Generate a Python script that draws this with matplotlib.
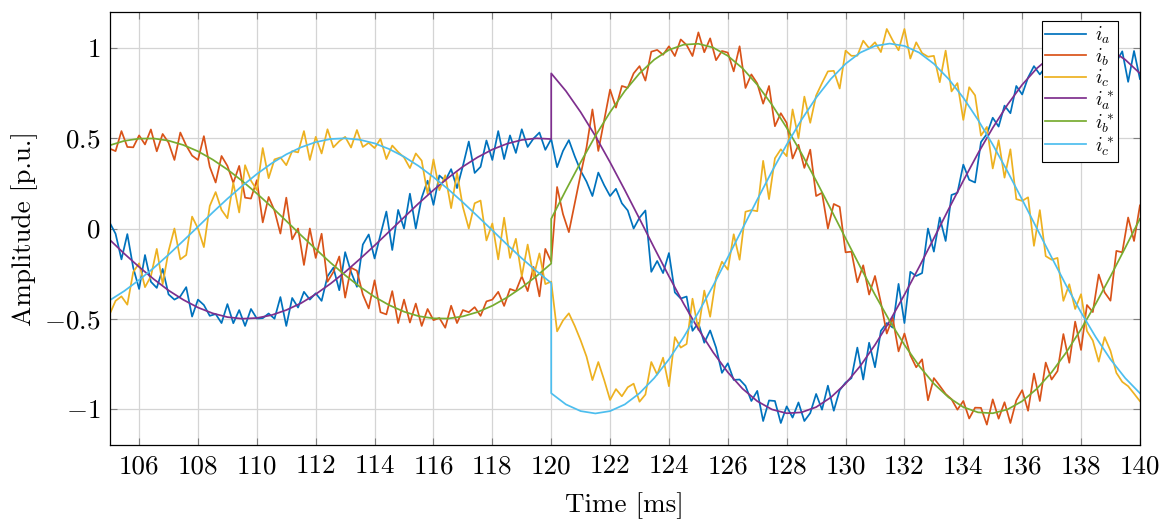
import numpy as np
import matplotlib
matplotlib.use("Agg")
import matplotlib.pyplot as plt

plt.rcParams['font.family'] = 'serif'
plt.rcParams['font.serif'] = ['cmr10']
plt.rcParams['mathtext.fontset'] = 'cm'
plt.rcParams['axes.formatter.use_mathtext'] = True

# measured phase currents, sampled every 0.2 ms from 105 to 140 ms
t_meas = np.linspace(105, 140, 176)

i_a = [
    0.033, -0.029, -0.171, -0.031, -0.217, -0.335, -0.147, -0.295, -0.329, -0.224,
    -0.365, -0.394, -0.376, -0.325, -0.488, -0.394, -0.424, -0.484, -0.474, -0.524,
    -0.419, -0.525, -0.452, -0.540, -0.446, -0.499, -0.497, -0.471, -0.500, -0.380,
    -0.540, -0.385, -0.438, -0.351, -0.394, -0.359, -0.401, -0.265, -0.217, -0.342,
    -0.131, -0.241, -0.323, -0.089, -0.033, -0.166, -0.034, 0.094, -0.119, 0.103,
    0.000, 0.193, 0.000, 0.171, 0.265, 0.131, 0.294, 0.265, 0.329, 0.224,
    0.347, 0.482, 0.308, 0.342, 0.488, 0.380, 0.540, 0.385, 0.516, 0.419,
    0.550, 0.452, 0.499, 0.532, 0.436, 0.496,
    0.34, 0.43, 0.49, 0.40, 0.32, 0.26, 0.18, 0.31, 0.24, 0.18,
    0.22, 0.14, 0.10, 0.00, 0.06, 0.10, -0.24, -0.18,
    -0.247, -0.136, -0.354, -0.388, -0.377, -0.567, -0.524, -0.633, -0.565, -0.660,
    -0.800, -0.747, -0.839, -0.837, -0.872, -0.956, -0.900, -1.067, -0.953, -0.956,
    -1.078, -0.986, -1.048, -0.964, -1.067, -1.023, -0.917, -1.004, -0.871, -1.010,
    -0.896, -0.854, -0.829, -0.660, -0.837, -0.633, -0.769, -0.567, -0.524, -0.549,
    -0.307, -0.524, -0.240, -0.263, -0.247, 0.000, -0.128, 0.061, -0.069, 0.186,
    0.198, 0.354, 0.270, 0.255, 0.479, 0.524, 0.614, 0.565, 0.681, 0.639,
    0.790, 0.743, 0.837, 0.900, 0.854, 0.896, 1.010, 0.953, 0.986, 1.053,
    0.962, 1.037, 0.992, 1.084, 0.993, 0.956, 1.078, 0.924, 0.982, 0.813,
    0.984, 0.829,
]

i_b = [
    0.443, 0.429, 0.540, 0.452, 0.450, 0.516, 0.466, 0.549, 0.428, 0.524,
    0.476, 0.380, 0.532, 0.460, 0.404, 0.380, 0.512, 0.342, 0.255, 0.402,
    0.347, 0.253, 0.347, 0.171, 0.166, 0.268, 0.034, 0.175, 0.099, -0.028,
    0.171, -0.060, 0.000, -0.202, 0.000, -0.163, -0.029, -0.295, -0.241, -0.155,
    -0.383, -0.217, -0.234, -0.366, -0.443, -0.287, -0.464, -0.476, -0.347, -0.524,
    -0.394, -0.521, -0.416, -0.540, -0.446, -0.508, -0.496, -0.550, -0.428, -0.524,
    -0.452, -0.464, -0.436, -0.484, -0.404, -0.394, -0.351, -0.429, -0.335, -0.347,
    -0.265, -0.347, -0.213, -0.376, -0.113, -0.184,
    0.23, 0.08, -0.02, 0.14, 0.30, 0.45, 0.66, 0.43, 0.60, 0.77,
    0.67, 0.79, 0.78, 0.86, 0.90, 0.82, 0.98, 0.99,
    0.963, 1.010, 0.956, 1.048, 1.017, 0.956, 1.087, 0.977, 1.054, 0.933,
    0.984, 0.975, 0.871, 1.010, 0.779, 0.854, 0.804, 0.692, 0.790, 0.567,
    0.639, 0.585, 0.388, 0.464, 0.336, 0.437, 0.180, 0.198, 0.000, 0.136,
    0.120, -0.132, -0.128, -0.298, -0.204, -0.366, -0.263, -0.411, -0.582, -0.494,
    -0.681, -0.582, -0.702, -0.769, -0.725, -0.952, -0.829, -0.872, -0.917, -0.946,
    -1.004, -0.956, -1.053, -0.993, -0.994, -1.087, -0.947, -1.054, -0.963, -1.078,
    -0.953, -0.896, -1.010, -0.804, -0.956, -0.743, -0.837, -0.790, -0.585, -0.744,
    -0.516, -0.673, -0.424, -0.463, -0.255, -0.354, -0.400, -0.124, -0.132, 0.061,
    -0.069, 0.128,
]

i_c = [
    -0.475, -0.401, -0.376, -0.422, -0.241, -0.193, -0.325, -0.265, -0.113, -0.309,
    -0.125, 0.000, -0.171, -0.147, 0.066, 0.000, -0.103, 0.125, 0.202, 0.103,
    0.057, 0.253, 0.089, 0.351, 0.265, 0.213, 0.446, 0.279, 0.383, 0.394,
    0.351, 0.429, 0.422, 0.540, 0.380, 0.508, 0.416, 0.550, 0.450, 0.484,
    0.508, 0.449, 0.546, 0.452, 0.475, 0.446, 0.497, 0.385, 0.460, 0.424,
    0.394, 0.335, 0.416, 0.376, 0.192, 0.383, 0.213, 0.295, 0.113, 0.309,
    0.119, 0.000, 0.140, 0.155, -0.066, 0.028, -0.171, 0.060, -0.163, -0.057,
    -0.265, -0.089, -0.268, -0.138, -0.308, -0.294,
    -0.57, -0.51, -0.47, -0.54, -0.62, -0.71, -0.84, -0.74, -0.84, -0.95,
    -0.89, -0.93, -0.88, -0.86, -0.96, -0.92, -0.74, -0.81,
    -0.716, -0.874, -0.602, -0.660, -0.640, -0.389, -0.563, -0.344, -0.489, -0.273,
    -0.184, -0.228, -0.032, -0.173, 0.093, 0.102, 0.096, 0.375, 0.163, 0.389,
    0.439, 0.401, 0.660, 0.500, 0.731, 0.586, 0.737, 0.806, 0.871, 0.874,
    0.776, 0.986, 0.957, 0.958, 1.041, 0.999, 1.032, 0.978, 1.106, 1.043,
    0.988, 1.106, 0.942, 1.032, 0.972, 0.952, 0.957, 0.811, 0.986, 0.760,
    0.806, 0.602, 0.783, 0.738, 0.515, 0.563, 0.333, 0.489, 0.282, 0.439,
    0.163, 0.153, 0.173, -0.096, 0.102, -0.153, -0.173, -0.163, -0.401, -0.309,
    -0.446, -0.364, -0.568, -0.621, -0.738, -0.602, -0.678, -0.800, -0.850, -0.874,
    -0.915, -0.957,
]

# reference currents every 0.5 ms, step change of the setpoint at 120 ms
t_ref = np.concatenate([np.linspace(105, 120, 31), np.linspace(120, 140, 41)])

i_a_ref = [
    -0.062, -0.140, -0.213, -0.281, -0.343, -0.395, -0.438, -0.470, -0.491, -0.500,
    -0.496, -0.480, -0.452, -0.414, -0.364, -0.306, -0.241, -0.169, -0.094, -0.016,
    0.062, 0.140, 0.213, 0.281, 0.343, 0.395, 0.438, 0.470, 0.491, 0.500, 0.496,
    0.860, 0.762, 0.645, 0.513, 0.367, 0.213, 0.054, -0.107, -0.265, -0.417,
    -0.558, -0.686, -0.797, -0.888, -0.957, -1.003, -1.024, -1.019, -0.990, -0.936,
    -0.860, -0.762, -0.645, -0.513, -0.367, -0.213, -0.054, 0.107, 0.265, 0.417,
    0.558, 0.686, 0.797, 0.888, 0.957, 1.003, 1.024, 1.019, 0.990, 0.936, 0.860,
]

i_b_ref = [
    0.461, 0.486, 0.498, 0.499, 0.487, 0.463, 0.428, 0.382, 0.327, 0.264,
    0.194, 0.120, 0.042, -0.037, -0.114, -0.189, -0.259, -0.323, -0.379, -0.425,
    -0.461, -0.486, -0.498, -0.499, -0.487, -0.463, -0.428, -0.382, -0.327, -0.264, -0.194,
    0.054, 0.213, 0.367, 0.513, 0.645, 0.762, 0.860, 0.936, 0.990, 1.019,
    1.024, 1.003, 0.957, 0.888, 0.797, 0.686, 0.558, 0.417, 0.265, 0.107,
    -0.054, -0.213, -0.367, -0.513, -0.645, -0.762, -0.860, -0.936, -0.990, -1.019,
    -1.024, -1.003, -0.957, -0.888, -0.797, -0.686, -0.558, -0.417, -0.265, -0.107, 0.054,
]

i_c_ref = [
    -0.398, -0.346, -0.285, -0.218, -0.145, -0.068, 0.010, 0.089, 0.165, 0.236,
    0.302, 0.361, 0.411, 0.450, 0.479, 0.496, 0.500, 0.492, 0.472, 0.440,
    0.398, 0.346, 0.285, 0.218, 0.145, 0.068, -0.010, -0.089, -0.165, -0.236, -0.302,
    -0.913, -0.975, -1.012, -1.025, -1.012, -0.975, -0.913, -0.829, -0.725, -0.602,
    -0.465, -0.317, -0.160, 0.000, 0.160, 0.317, 0.465, 0.602, 0.725, 0.829,
    0.913, 0.975, 1.012, 1.025, 1.012, 0.975, 0.913, 0.829, 0.725, 0.602,
    0.465, 0.317, 0.160, 0.000, -0.160, -0.317, -0.465, -0.602, -0.725, -0.829, -0.913,
]

x_ticks = list(range(106, 141, 2))
y_ticks = [-1, -0.5, 0, 0.5, 1]
y_tick_labels = [r'$-1$', r'$-0.5$', r'$0$', r'$0.5$', r'$1$']

colors = ['#0072BD', '#D95319', '#EDB120', '#7E2F8E', '#77AC30', '#4DBEEE']

fig = plt.figure(figsize=(11.73, 5.2), dpi=100)
ax = fig.add_axes([0.0935, 0.1442, 0.8783, 0.8327])

lw = 1.25
ax.plot(t_meas, i_a, color=colors[0], lw=lw, label=r'$i_a$')
ax.plot(t_meas, i_b, color=colors[1], lw=lw, label=r'$i_b$')
ax.plot(t_meas, i_c, color=colors[2], lw=lw, label=r'$i_c$')
ax.plot(t_ref, i_a_ref, color=colors[3], lw=lw, label=r'$i_a^*$')
ax.plot(t_ref, i_b_ref, color=colors[4], lw=lw, label=r'$i_b^*$')
ax.plot(t_ref, i_c_ref, color=colors[5], lw=lw, label=r'$i_c^*$')

ax.set_xlim(105, 140)
ax.set_ylim(-1.2, 1.2)
ax.set_xticks(x_ticks)
ax.set_xticklabels([str(v) for v in x_ticks])
ax.set_yticks(y_ticks)
ax.set_yticklabels(y_tick_labels)

ax.grid(True, color='#d4d4d4', lw=0.9)
ax.set_axisbelow(True)
ax.tick_params(direction='in', length=5, width=0.8, color='#808080',
               top=True, right=True, labelsize=19.5, pad=7)
for sp in ax.spines.values():
    sp.set_color('black')
    sp.set_linewidth(0.9)

ax.set_xlabel('Time [ms]', fontsize=19.5, labelpad=10)
ax.set_ylabel('Amplitude [p.u.]', fontsize=19.5, labelpad=4)

leg = ax.legend(loc='upper right', bbox_to_anchor=(0.979, 0.979), fontsize=14,
                frameon=True, fancybox=False, edgecolor='black', framealpha=1,
                handlelength=2.1, handletextpad=0.45, labelspacing=0.0,
                borderpad=0.2, borderaxespad=0)
leg.get_frame().set_linewidth(0.8)

fig.savefig('out.png', dpi=100)
